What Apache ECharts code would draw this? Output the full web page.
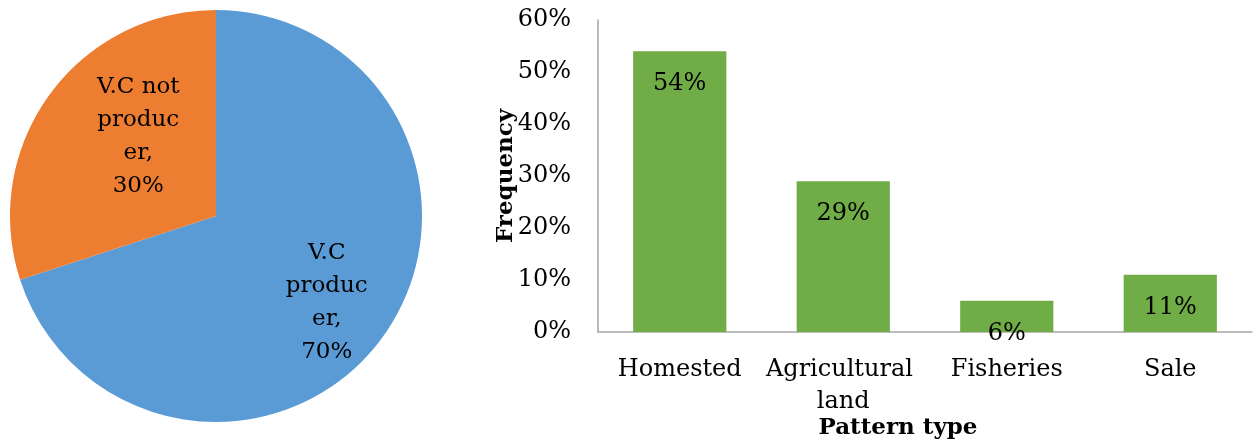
<!DOCTYPE html>
<html>
<head>
<meta charset="utf-8">
<script src="https://cdn.jsdelivr.net/npm/echarts@6/dist/echarts.min.js"></script>
<style>
  html, body { margin: 0; padding: 0; background: #fff; }
  #chart { width: 1256px; height: 443px; }
</style>
</head>
<body>
<div id="chart"></div>
<script>
// Share of V.C producers
const pieNames = ['V.C producer', 'V.C not producer'];
const pieValues = [70, 30];
const pieLines = ['V.C\nproduc\ner,', 'V.C not\nproduc\ner,'];
const pieColors = ['#5B9BD5', '#ED7D31'];

// Pattern type frequencies (%)
const categories = ['Homested', 'Agricultural land', 'Fisheries', 'Sale'];
const frequency = [54, 29, 6, 11];
const yTicks = { min: 0, max: 60, interval: 10 };

const FONT = 'DejaVu Serif';
const chart = echarts.init(document.getElementById('chart'));

chart.setOption({
  animation: false,
  textStyle: { fontFamily: FONT, color: '#000' },
  title: [{
    text: 'Pattern type',
    left: 893, top: 412, textAlign: 'center',
    textStyle: { fontFamily: FONT, fontWeight: 'bold', fontSize: 23, color: '#000' }
  }],
  grid: { left: 598, right: 4, top: 20, bottom: 111 },
  xAxis: {
    type: 'category',
    data: categories,
    axisLine: { lineStyle: { color: '#A6A6A6', width: 1.5 } },
    axisTick: { show: false },
    axisLabel: {
      fontFamily: FONT, fontSize: 24, color: '#000', margin: 22,
      lineHeight: 32, width: 160, overflow: 'break', interval: 0
    }
  },
  yAxis: {
    type: 'value',
    min: yTicks.min, max: yTicks.max, interval: yTicks.interval,
    name: 'Frequency', nameLocation: 'middle', nameGap: 80, nameRotate: 90,
    nameMoveOverlap: false,
    nameTextStyle: { fontFamily: FONT, fontWeight: 'bold', fontSize: 23, color: '#000' },
    axisLine: { show: true, lineStyle: { color: '#A6A6A6', width: 1.5 } },
    axisTick: { show: false },
    splitLine: { show: false },
    axisLabel: { fontFamily: FONT, fontSize: 24, color: '#000', margin: 27, formatter: '{value}%' }
  },
  series: [
    {
      type: 'pie',
      center: [216, 216],
      radius: 206,
      startAngle: 90,
      clockwise: true,
      silent: true,
      data: pieNames.map((n, i) => ({
        name: n, value: pieValues[i],
        itemStyle: { color: pieColors[i] },
        label: { offset: i === 0 ? [25, 24] : [8, -17] }
      })),
      label: {
        position: 'inside',
        fontFamily: FONT, fontSize: 23, color: '#000', lineHeight: 33,
        formatter: p => pieLines[p.dataIndex] + '\n' + p.value + '%'
      },
      labelLine: { show: false }
    },
    {
      type: 'bar',
      data: frequency,
      barWidth: '57%',
      itemStyle: { color: '#70AD47' },
      label: {
        show: true, position: 'insideTop', distance: 21,
        fontFamily: FONT, fontSize: 24, color: '#000', lineHeight: 24,
        formatter: '{c}%'
      }
    }
  ]
});
</script>
</body>
</html>
